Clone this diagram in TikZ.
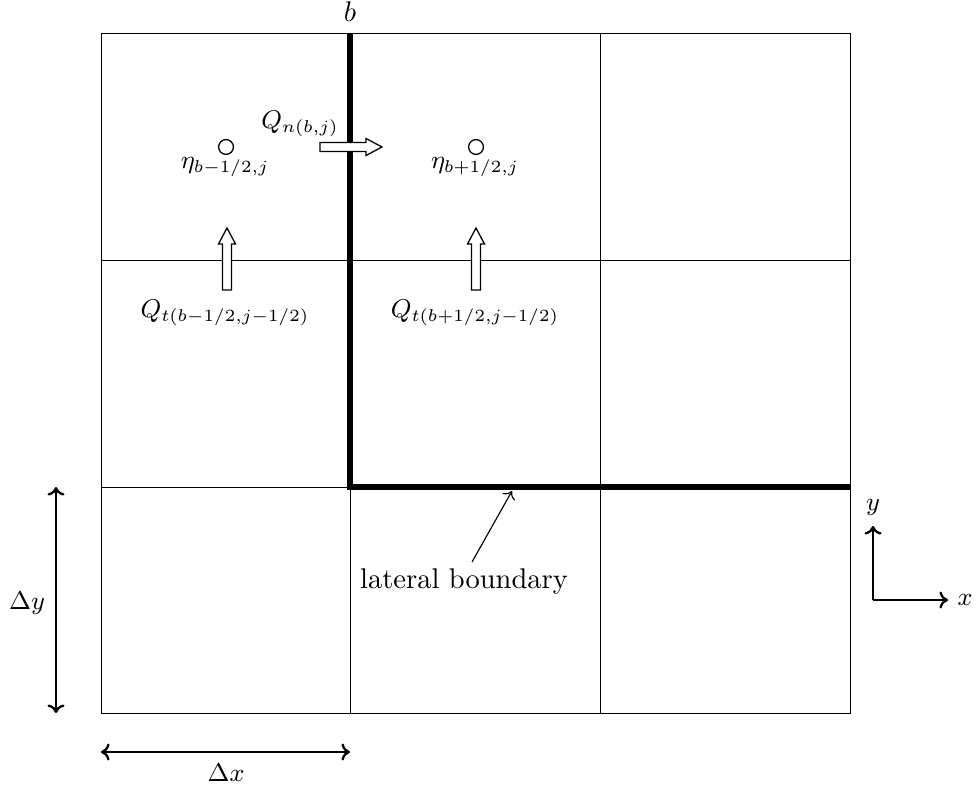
\documentclass[tikz,border=0pt]{standalone}
\usetikzlibrary{arrows.meta}
\begin{document}
\begin{tikzpicture}[x=0.351pt,y=-0.351pt,
  grid/.style={line width=0.3pt},
  bound/.style={line width=2.3pt},
  dim/.style={line width=0.8pt,{To[length=3pt,width=6pt]}-{To[length=3pt,width=6pt]}},
  axis/.style={line width=0.8pt,-{To[length=3pt,width=6pt]}},
  flux/.style={draw,line width=0.45pt,fill=white},
  cell/.style={circle,draw,line width=0.45pt,minimum size=5.2pt,inner sep=0pt},
  lbl/.style={inner sep=1pt},
  mlbl/.style={inner sep=1pt,font=\small}]
\useasboundingbox (0,0) rectangle (976,787);
% grid
\draw[grid] (101,33) rectangle (850,713);
\foreach \xx in {350,600} \draw[grid] (\xx,33) -- (\xx,713);
\foreach \yy in {260,487} \draw[grid] (101,\yy) -- (850,\yy);
% boundary
\coordinate (btop) at (350,33);
\coordinate (bcorner) at (350,487);
\coordinate (bend) at (850,487);
\draw[bound] (btop) -- (bcorner) -- (bend);
\node[lbl] (blab) at (350,12) {$b$};
% cell centres
\node[cell] (c1) at (226,147) {};
\node[cell] (c2) at (476,147) {};
\node[mlbl] (eta1) at (225,167) {$\eta_{b-1/2,j}$};
\node[mlbl] (eta2) at (475,167) {$\eta_{b+1/2,j}$};
% fluxes (hollow arrows)
\coordinate (qnt) at (320,147);
\coordinate (qt1t) at (227,290);
\coordinate (qt2t) at (476,290);
\foreach \p/\r in {qnt/0,qt1t/90,qt2t/90}
  \draw[flux,shift={(\p)},rotate=\r] (0,-4.5) -- (46,-4.5) -- (46,-8.5) -- (62,0)
    -- (46,8.5) -- (46,4.5) -- (0,4.5) -- cycle;
\node[mlbl] (qnlab) at (300,124) {$Q_{n(b,j)}$};
\node[mlbl] (qt1lab) at (225,313) {$Q_{t(b-1/2,j-1/2)}$};
\node[mlbl] (qt2lab) at (475,313) {$Q_{t(b+1/2,j-1/2)}$};
% lateral boundary
\node[lbl] (lat) at (464,582) {lateral boundary};
\coordinate (latstart) at (472,562);
\coordinate (latpt) at (512,491);
\draw[line width=0.4pt,-{To[length=2.5pt,width=5pt]}] (latstart) -- (latpt);
% dimensions
\coordinate (dyt) at (56,487);
\coordinate (dyb) at (56,713);
\draw[dim] (dyt) -- (dyb);
\node[mlbl] (dylab) at (27,603) {$\Delta y$};
\coordinate (dxl) at (101,752);
\coordinate (dxr) at (350,752);
\draw[dim] (dxl) -- (dxr);
\node[mlbl] (dxlab) at (226,773) {$\Delta x$};
% axes
\coordinate (o) at (873,600);
\coordinate (ay) at (873,526);
\coordinate (ax) at (948,600);
\draw[axis] (o) -- (ay);
\draw[axis] (o) -- (ax);
\node[mlbl] (ylab) at (873,507) {$y$};
\node[mlbl] (xlab) at (965,600) {$x$};
\end{tikzpicture}
\end{document}
